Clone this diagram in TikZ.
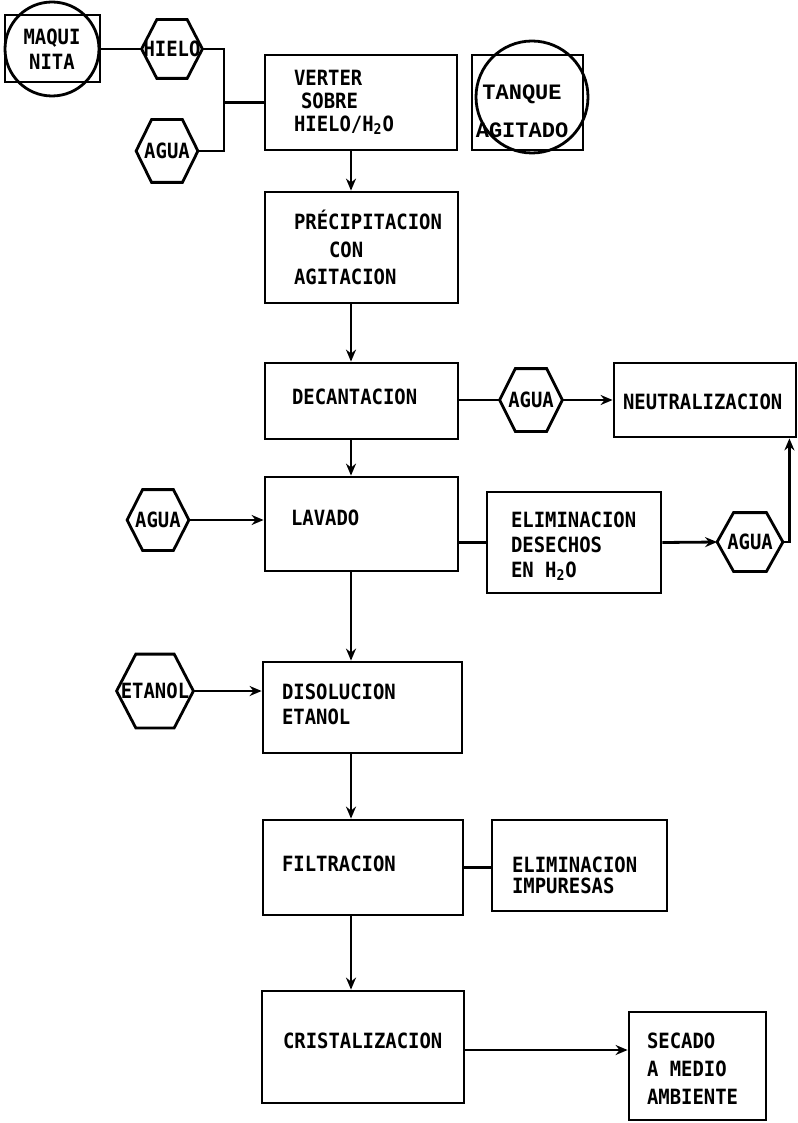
\documentclass[tikz,border=0pt]{standalone}
\usepackage{fontspec}
\setmonofont{DejaVu Sans Mono}[FakeStretch=0.9]
\newfontfamily\tanquefont{Liberation Mono}
\usetikzlibrary{arrows.meta,calc,positioning}

\newcommand{\letra}[1][12.5]{\ttfamily\bfseries\fontsize{10.5}{#1}\selectfont}
% contorno hexagonal sobre un nodo rectangular
\newcommand{\hexa}[1]{%
  \draw[linea] (#1.west) -- ($(#1.north west)!.25!(#1.north east)$)
    -- ($(#1.north west)!.75!(#1.north east)$) -- (#1.east)
    -- ($(#1.south west)!.75!(#1.south east)$)
    -- ($(#1.south west)!.25!(#1.south east)$) -- cycle;}

\tikzset{
  linea/.style={line width=1.4pt},
  caja/.style={draw, linea, rectangle, inner sep=0pt},
  texto/.style={font=\letra, align=left, anchor=west, inner sep=0pt},
  hexnodo/.style={inner sep=0pt, font=\letra},
  flecha/.style={linea, -{Stealth[length=6pt,width=5pt]}},
}

\begin{document}
\begin{tikzpicture}[x=0.5pt, y=-0.5pt]
        \path[fill=white] (0,0) rectangle (791,1123);

        % Equipos
        \node[caja, minimum width=47.5pt, minimum height=33.5pt] (maqcaja) at (52.5,48.5) {};
        \node[circle, draw, linea, minimum size=47pt, inner sep=0pt, font=\letra, align=center] (maq) at (52,49) {MAQUI\\NITA};
        \node[caja, minimum width=55.5pt, minimum height=47.5pt] (tanquecaja) at (527.5,102.5) {};
        \node[circle, draw, linea, minimum size=56pt, inner sep=0pt] (tanque) at (532,97) {};
        \node[font=\tanquefont\bfseries\fontsize{11}{19}\selectfont, align=center, inner sep=0pt] (tanquetxt) at (522,111) {TANQUE\\AGITADO};

        % Entradas
        \node[hexnodo, minimum width=30pt, minimum height=29pt] (hielo) at (172,49) {HIELO};
        \node[hexnodo, minimum width=30.5pt, minimum height=31pt] (agua1) at (167,151) {AGUA};
        \node[hexnodo, minimum width=31pt, minimum height=31pt] (agua2) at (531,400) {AGUA};
        \node[hexnodo, minimum width=30.5pt, minimum height=30pt] (agua3) at (158,520) {AGUA};
        \node[hexnodo, minimum width=32.5pt, minimum height=29pt] (agua4) at (750,542) {AGUA};
        \node[hexnodo, minimum width=38pt, minimum height=36.5pt] (etanol) at (155,691) {ETANOL};
        \hexa{hielo} \hexa{agua1} \hexa{agua2} \hexa{agua3} \hexa{agua4} \hexa{etanol}

        % Etapas
        \node[caja, minimum width=96pt, minimum height=47.5pt] (verter) at (361,102.5) {};
        \node[caja, minimum width=96.5pt, minimum height=55.5pt] (precip) at (361.5,247.5) {};
        \node[caja, minimum width=96.5pt, minimum height=38pt] (decant) at (361.5,401) {};
        \node[caja, minimum width=91pt, minimum height=37pt] (neutral) at (705,400) {};
        \node[caja, minimum width=96.5pt, minimum height=47pt] (lavado) at (361.5,524) {};
        \node[caja, minimum width=87pt, minimum height=50.5pt] (elimdes) at (574,542.5) {};
        \node[caja, minimum width=99.5pt, minimum height=45.5pt] (disol) at (362.5,707.5) {};
        \node[caja, minimum width=100pt, minimum height=47.5pt] (filtr) at (363,867.5) {};
        \node[caja, minimum width=87.5pt, minimum height=45.5pt] (elimimp) at (579.5,865.5) {};
        \node[caja, minimum width=101pt, minimum height=56pt] (crist) at (363,1047) {};
        \node[caja, minimum width=68.5pt, minimum height=54pt] (secado) at (697.5,1066) {};

        % Textos
        \node[texto, font={\letra[11.5]}] (tverter) at ([xshift=15pt]verter.west) {VERTER\\\hspace*{3.5pt}SOBRE\\HIELO/H\textsubscript{2}O};
        \node[texto, font={\letra[13.7]}] (tprecip) at ([xshift=15pt]precip.west) {PRÉCIPITACION\\\hspace*{17.5pt}CON\\AGITACION};
        \node[texto] (tdecant) at ([xshift=14pt, yshift=2pt]decant.west) {DECANTACION};
        \node[texto] (tneutral) at ([xshift=5pt, yshift=-1pt]neutral.west) {NEUTRALIZACION};
        \node[texto] (tlavado) at ([xshift=13.5pt, yshift=3pt]lavado.west) {LAVADO};
        \node[texto] (telimdes) at ([xshift=12.5pt, yshift=-2pt]elimdes.west) {ELIMINACION\\DESECHOS\\EN H\textsubscript{2}O};
        \node[texto] (tdisol) at ([xshift=10pt, yshift=1.5pt]disol.west) {DISOLUCION\\ETANOL};
        \node[texto] (tfiltr) at ([xshift=10pt, yshift=2pt]filtr.west) {FILTRACION};
        \node[texto, font={\letra[10.5]}] (telimimp) at ([xshift=10.5pt, yshift=-5pt]elimimp.west) {ELIMINACION\\IMPURESAS};
        \node[texto] (tcrist) at ([xshift=11pt, yshift=3pt]crist.west) {CRISTALIZACION};
        \node[texto, font={\letra[14]}] (tsecado) at ([xshift=9.5pt, yshift=-1.5pt]secado.west) {SECADO\\A MEDIO\\AMBIENTE};

        % Conexiones
        \coordinate (junta) at (224,102.5);
        \coordinate (eje) at (351,0);
        \draw[linea] (maq.east) -- (hielo.west);
        \draw[linea] (hielo.east) -| (junta);
        \draw[linea] (agua1.east) -| (junta);
        \draw[linea] (junta) -- (verter.west);
        \draw[flecha] (verter.south -| eje) -- (precip.north -| eje);
        \draw[flecha] (precip.south -| eje) -- (decant.north -| eje);
        \draw[linea] (decant.east |- agua2.west) -- (agua2.west);
        \draw[flecha] (agua2.east) -- (agua2.east -| neutral.west);
        \draw[flecha] (decant.south -| eje) -- (lavado.north -| eje);
        \draw[flecha] (agua3.east) -- (agua3.east -| lavado.west);
        \draw[linea] (lavado.east |- elimdes.west) -- (elimdes.west);
        \draw[flecha] (elimdes.east) -- (agua4.west);
        \draw[flecha] (agua4.east) -| ([xshift=-4pt]neutral.south east);
        \draw[flecha] (lavado.south -| eje) -- (disol.north -| eje);
        \draw[flecha] (etanol.east) -- (etanol.east -| disol.west);
        \draw[flecha] (disol.south -| eje) -- (filtr.north -| eje);
        \draw[linea] (filtr.east) -- (filtr.east -| elimimp.west);
        \draw[flecha] (filtr.south -| eje) -- (crist.north -| eje);
        \draw[flecha] (crist.east |- 0,1050) -- (secado.west |- 0,1050);
\end{tikzpicture}
\end{document}
